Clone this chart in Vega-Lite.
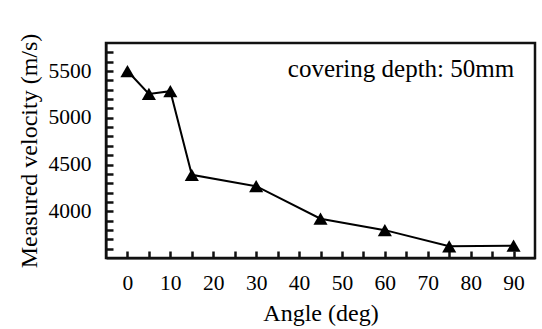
{
  "$schema": "https://vega.github.io/schema/vega-lite/v6.json",
  "autosize": {"type": "none"},
  "width": 429,
  "height": 215,
  "padding": {"left": 106, "top": 43, "right": 7, "bottom": 71},
  "background": "white",
  "config": {
    "font": "Liberation Serif",
    "view": {"stroke": "#111111", "strokeWidth": 2.5},
    "axis": {"grid": false, "domainColor": "#111111", "domainWidth": 2, "tickColor": "#111111", "tickWidth": 2.5, "labelColor": "black", "titleColor": "black", "labelFont": "Liberation Serif", "titleFont": "Liberation Serif", "labelFontSize": 21.5, "titleFontSize": 24, "titleFontWeight": "normal"}
  },
  "data": {"values": [
    {"angle": 0, "v": 5500},
    {"angle": 5, "v": 5255},
    {"angle": 10, "v": 5285},
    {"angle": 15, "v": 4390},
    {"angle": 30, "v": 4268},
    {"angle": 45, "v": 3920},
    {"angle": 60, "v": 3798},
    {"angle": 75, "v": 3625},
    {"angle": 90, "v": 3632}
  ]},
  "encoding": {
    "x": {"field": "angle", "type": "quantitative", "title": "Angle (deg)",
      "scale": {"domain": [-5, 95], "nice": false, "zero": false},
      "axis": {"values": [0,5,10,15,20,25,30,35,40,45,50,55,60,65,70,75,80,85,90], "labelExpr": "datum.value % 10 === 0 ? datum.label : ''", "tickSize": -7, "labelPadding": 21, "titlePadding": 8}},
    "y": {"field": "v", "type": "quantitative", "title": "Measured velocity (m/s)",
      "scale": {"domain": [3500, 5800], "nice": false, "zero": false},
      "axis": {"values": [3600,3700,3800,3900,4000,4100,4200,4300,4400,4500,4600,4700,4800,4900,5000,5100,5200,5300,5400,5500,5600,5700], "labelExpr": "datum.value % 500 === 0 ? datum.label : ''", "format": "d", "tickSize": -7, "labelPadding": 22, "titlePadding": 7}}
  },
  "layer": [
    {"mark": {"type": "line", "color": "black", "strokeWidth": 2}},
    {"mark": {"type": "point", "shape": "triangle-up", "filled": true, "color": "black", "size": 200, "opacity": 1}},
    {"data": {"values": [{"t": "covering depth: 50mm", "x": 90.15, "y": 5433}]},
     "mark": {"type": "text", "align": "right", "baseline": "alphabetic", "fontSize": 25, "font": "Liberation Serif", "color": "black"},
     "encoding": {"x": {"field": "x", "type": "quantitative"}, "y": {"field": "y", "type": "quantitative"}, "text": {"field": "t"}}}
  ]
}
